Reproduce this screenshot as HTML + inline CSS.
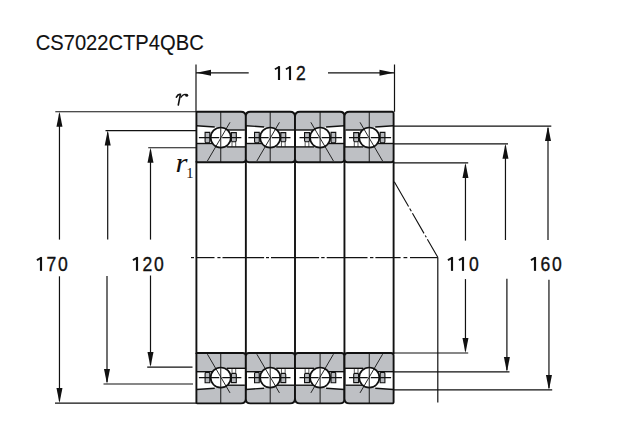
<!DOCTYPE html>
<html><head><meta charset="utf-8"><style>
html,body{margin:0;padding:0;background:#fff;width:640px;height:440px;overflow:hidden}
svg{position:absolute;left:0;top:0}
.t{font-family:"Liberation Sans",sans-serif;fill:#111;stroke:#111;stroke-width:0.35px}
.h{font-family:"Liberation Sans",sans-serif;fill:#111;stroke:#111;stroke-width:0.12px}
.s{font-family:"Liberation Serif",serif;font-style:italic;fill:#111}
.n{font-family:"Liberation Serif",serif;fill:#111}
</style></head><body>
<svg width="640" height="440" viewBox="0 0 640 440">
<g transform="translate(196.4,111.8) scale(1,1)"><path d="M0,0.8 Q0,0 0.8,0 H44.44999999999999 Q49.44999999999999,0 49.44999999999999,5.0 V18.2 H30.35 L18.35,15.2 L0,13.9 Z" fill="#bec0c4"/><path d="M0,31.7 H18.35 L30.35,35.1 H49.44999999999999 V47.4 Q49.44999999999999,50.4 46.44999999999999,50.4 H0.8 Q0,50.4 0,49.6 Z" fill="#bec0c4"/><path d="M0,13.9 L18.35,15.2" stroke="#111" stroke-width="1.4" fill="none"/><path d="M30.35,18.2 H48.44999999999999" stroke="#111" stroke-width="1.4" fill="none"/><path d="M0,31.7 H18.35" stroke="#111" stroke-width="1.4" fill="none"/><path d="M30.35,35.1 H49.44999999999999" stroke="#111" stroke-width="1.4" fill="none"/><path d="M8.7,20.6 H13.4 V29.8 Q13.4,31.0 12.2,31.0 H9.9 Q8.7,31.0 8.7,29.8 Z" fill="#b9bbbf" stroke="#111" stroke-width="1.1"/><path d="M35.0,20.8 H39.9 V28.8 Q39.9,30.0 38.7,30.0 H36.2 Q35.0,30.0 35.0,28.8 Z" fill="#b9bbbf" stroke="#111" stroke-width="1.1"/><path d="M35.6,30 V35 M39.3,30 V35" stroke="#111" stroke-width="0.7" fill="none"/><circle cx="24.35" cy="25.8" r="10.1" fill="#fff" stroke="#111" stroke-width="1.7"/><path d="M2.5,25.8 H22.85 M25.85,25.8 H44.94999999999999" stroke="#111" stroke-width="1.1" fill="none"/><path d="M24.35,0 V50.4" stroke="#111" stroke-width="0.95" fill="none"/><path d="M33.6,10.5 L11.0,49.2" stroke="#111" stroke-width="0.9" fill="none"/><path d="M0,0.8 Q0,0 0.8,0 H44.44999999999999 Q49.44999999999999,0 49.44999999999999,5.0 V47.4 Q49.44999999999999,50.4 46.44999999999999,50.4 H0.8 Q0,50.4 0,49.6 Z" fill="none" stroke="#111" stroke-width="1.9"/></g><g transform="translate(196.4,403.4) scale(1,-1)"><path d="M0,0.8 Q0,0 0.8,0 H44.44999999999999 Q49.44999999999999,0 49.44999999999999,5.0 V18.2 H30.35 L18.35,15.2 L0,13.9 Z" fill="#bec0c4"/><path d="M0,31.7 H18.35 L30.35,35.1 H49.44999999999999 V47.4 Q49.44999999999999,50.4 46.44999999999999,50.4 H0.8 Q0,50.4 0,49.6 Z" fill="#bec0c4"/><path d="M0,13.9 L18.35,15.2" stroke="#111" stroke-width="1.4" fill="none"/><path d="M30.35,18.2 H48.44999999999999" stroke="#111" stroke-width="1.4" fill="none"/><path d="M0,31.7 H18.35" stroke="#111" stroke-width="1.4" fill="none"/><path d="M30.35,35.1 H49.44999999999999" stroke="#111" stroke-width="1.4" fill="none"/><path d="M8.7,20.6 H13.4 V29.8 Q13.4,31.0 12.2,31.0 H9.9 Q8.7,31.0 8.7,29.8 Z" fill="#b9bbbf" stroke="#111" stroke-width="1.1"/><path d="M35.0,20.8 H39.9 V28.8 Q39.9,30.0 38.7,30.0 H36.2 Q35.0,30.0 35.0,28.8 Z" fill="#b9bbbf" stroke="#111" stroke-width="1.1"/><path d="M35.6,30 V35 M39.3,30 V35" stroke="#111" stroke-width="0.7" fill="none"/><circle cx="24.35" cy="25.8" r="10.1" fill="#fff" stroke="#111" stroke-width="1.7"/><path d="M2.5,25.8 H22.85 M25.85,25.8 H44.94999999999999" stroke="#111" stroke-width="1.1" fill="none"/><path d="M24.35,0 V50.4" stroke="#111" stroke-width="0.95" fill="none"/><path d="M33.6,10.5 L11.0,49.2" stroke="#111" stroke-width="0.9" fill="none"/><path d="M0,0.8 Q0,0 0.8,0 H44.44999999999999 Q49.44999999999999,0 49.44999999999999,5.0 V47.4 Q49.44999999999999,50.4 46.44999999999999,50.4 H0.8 Q0,50.4 0,49.6 Z" fill="none" stroke="#111" stroke-width="1.9"/></g><g transform="translate(245.85,111.8) scale(1,1)"><path d="M0,4.5 Q0,0 4.5,0 H44.150000000000006 Q49.150000000000006,0 49.150000000000006,5.0 V18.2 H30.35 L18.35,15.2 L0,13.9 Z" fill="#bec0c4"/><path d="M0,31.7 H18.35 L30.35,35.1 H49.150000000000006 V47.4 Q49.150000000000006,50.4 46.150000000000006,50.4 H3.0 Q0,50.4 0,47.4 Z" fill="#bec0c4"/><path d="M0,13.9 L18.35,15.2" stroke="#111" stroke-width="1.4" fill="none"/><path d="M30.35,18.2 H48.150000000000006" stroke="#111" stroke-width="1.4" fill="none"/><path d="M0,31.7 H18.35" stroke="#111" stroke-width="1.4" fill="none"/><path d="M30.35,35.1 H49.150000000000006" stroke="#111" stroke-width="1.4" fill="none"/><path d="M8.7,20.6 H13.4 V29.8 Q13.4,31.0 12.2,31.0 H9.9 Q8.7,31.0 8.7,29.8 Z" fill="#b9bbbf" stroke="#111" stroke-width="1.1"/><path d="M35.0,20.8 H39.9 V28.8 Q39.9,30.0 38.7,30.0 H36.2 Q35.0,30.0 35.0,28.8 Z" fill="#b9bbbf" stroke="#111" stroke-width="1.1"/><path d="M35.6,30 V35 M39.3,30 V35" stroke="#111" stroke-width="0.7" fill="none"/><circle cx="24.35" cy="25.8" r="10.1" fill="#fff" stroke="#111" stroke-width="1.7"/><path d="M2.5,25.8 H22.85 M25.85,25.8 H44.650000000000006" stroke="#111" stroke-width="1.1" fill="none"/><path d="M24.35,0 V50.4" stroke="#111" stroke-width="0.95" fill="none"/><path d="M33.6,10.5 L11.0,49.2" stroke="#111" stroke-width="0.9" fill="none"/><path d="M0,4.5 Q0,0 4.5,0 H44.150000000000006 Q49.150000000000006,0 49.150000000000006,5.0 V47.4 Q49.150000000000006,50.4 46.150000000000006,50.4 H3.0 Q0,50.4 0,47.4 Z" fill="none" stroke="#111" stroke-width="1.9"/></g><g transform="translate(245.85,403.4) scale(1,-1)"><path d="M0,4.5 Q0,0 4.5,0 H44.150000000000006 Q49.150000000000006,0 49.150000000000006,5.0 V18.2 H30.35 L18.35,15.2 L0,13.9 Z" fill="#bec0c4"/><path d="M0,31.7 H18.35 L30.35,35.1 H49.150000000000006 V47.4 Q49.150000000000006,50.4 46.150000000000006,50.4 H3.0 Q0,50.4 0,47.4 Z" fill="#bec0c4"/><path d="M0,13.9 L18.35,15.2" stroke="#111" stroke-width="1.4" fill="none"/><path d="M30.35,18.2 H48.150000000000006" stroke="#111" stroke-width="1.4" fill="none"/><path d="M0,31.7 H18.35" stroke="#111" stroke-width="1.4" fill="none"/><path d="M30.35,35.1 H49.150000000000006" stroke="#111" stroke-width="1.4" fill="none"/><path d="M8.7,20.6 H13.4 V29.8 Q13.4,31.0 12.2,31.0 H9.9 Q8.7,31.0 8.7,29.8 Z" fill="#b9bbbf" stroke="#111" stroke-width="1.1"/><path d="M35.0,20.8 H39.9 V28.8 Q39.9,30.0 38.7,30.0 H36.2 Q35.0,30.0 35.0,28.8 Z" fill="#b9bbbf" stroke="#111" stroke-width="1.1"/><path d="M35.6,30 V35 M39.3,30 V35" stroke="#111" stroke-width="0.7" fill="none"/><circle cx="24.35" cy="25.8" r="10.1" fill="#fff" stroke="#111" stroke-width="1.7"/><path d="M2.5,25.8 H22.85 M25.85,25.8 H44.650000000000006" stroke="#111" stroke-width="1.1" fill="none"/><path d="M24.35,0 V50.4" stroke="#111" stroke-width="0.95" fill="none"/><path d="M33.6,10.5 L11.0,49.2" stroke="#111" stroke-width="0.9" fill="none"/><path d="M0,4.5 Q0,0 4.5,0 H44.150000000000006 Q49.150000000000006,0 49.150000000000006,5.0 V47.4 Q49.150000000000006,50.4 46.150000000000006,50.4 H3.0 Q0,50.4 0,47.4 Z" fill="none" stroke="#111" stroke-width="1.9"/></g><g transform="translate(344.45,111.8) scale(-1,1)"><path d="M0,4.5 Q0,0 4.5,0 H44.44999999999999 Q49.44999999999999,0 49.44999999999999,5.0 V18.2 H30.35 L18.35,15.2 L0,13.9 Z" fill="#bec0c4"/><path d="M0,31.7 H18.35 L30.35,35.1 H49.44999999999999 V47.4 Q49.44999999999999,50.4 46.44999999999999,50.4 H3.0 Q0,50.4 0,47.4 Z" fill="#bec0c4"/><path d="M0,13.9 L18.35,15.2" stroke="#111" stroke-width="1.4" fill="none"/><path d="M30.35,18.2 H48.44999999999999" stroke="#111" stroke-width="1.4" fill="none"/><path d="M0,31.7 H18.35" stroke="#111" stroke-width="1.4" fill="none"/><path d="M30.35,35.1 H49.44999999999999" stroke="#111" stroke-width="1.4" fill="none"/><path d="M8.7,20.6 H13.4 V29.8 Q13.4,31.0 12.2,31.0 H9.9 Q8.7,31.0 8.7,29.8 Z" fill="#b9bbbf" stroke="#111" stroke-width="1.1"/><path d="M35.0,20.8 H39.9 V28.8 Q39.9,30.0 38.7,30.0 H36.2 Q35.0,30.0 35.0,28.8 Z" fill="#b9bbbf" stroke="#111" stroke-width="1.1"/><path d="M35.6,30 V35 M39.3,30 V35" stroke="#111" stroke-width="0.7" fill="none"/><circle cx="24.35" cy="25.8" r="10.1" fill="#fff" stroke="#111" stroke-width="1.7"/><path d="M2.5,25.8 H22.85 M25.85,25.8 H44.94999999999999" stroke="#111" stroke-width="1.1" fill="none"/><path d="M24.35,0 V50.4" stroke="#111" stroke-width="0.95" fill="none"/><path d="M33.6,10.5 L11.0,49.2" stroke="#111" stroke-width="0.9" fill="none"/><path d="M0,4.5 Q0,0 4.5,0 H44.44999999999999 Q49.44999999999999,0 49.44999999999999,5.0 V47.4 Q49.44999999999999,50.4 46.44999999999999,50.4 H3.0 Q0,50.4 0,47.4 Z" fill="none" stroke="#111" stroke-width="1.9"/></g><g transform="translate(344.45,403.4) scale(-1,-1)"><path d="M0,4.5 Q0,0 4.5,0 H44.44999999999999 Q49.44999999999999,0 49.44999999999999,5.0 V18.2 H30.35 L18.35,15.2 L0,13.9 Z" fill="#bec0c4"/><path d="M0,31.7 H18.35 L30.35,35.1 H49.44999999999999 V47.4 Q49.44999999999999,50.4 46.44999999999999,50.4 H3.0 Q0,50.4 0,47.4 Z" fill="#bec0c4"/><path d="M0,13.9 L18.35,15.2" stroke="#111" stroke-width="1.4" fill="none"/><path d="M30.35,18.2 H48.44999999999999" stroke="#111" stroke-width="1.4" fill="none"/><path d="M0,31.7 H18.35" stroke="#111" stroke-width="1.4" fill="none"/><path d="M30.35,35.1 H49.44999999999999" stroke="#111" stroke-width="1.4" fill="none"/><path d="M8.7,20.6 H13.4 V29.8 Q13.4,31.0 12.2,31.0 H9.9 Q8.7,31.0 8.7,29.8 Z" fill="#b9bbbf" stroke="#111" stroke-width="1.1"/><path d="M35.0,20.8 H39.9 V28.8 Q39.9,30.0 38.7,30.0 H36.2 Q35.0,30.0 35.0,28.8 Z" fill="#b9bbbf" stroke="#111" stroke-width="1.1"/><path d="M35.6,30 V35 M39.3,30 V35" stroke="#111" stroke-width="0.7" fill="none"/><circle cx="24.35" cy="25.8" r="10.1" fill="#fff" stroke="#111" stroke-width="1.7"/><path d="M2.5,25.8 H22.85 M25.85,25.8 H44.94999999999999" stroke="#111" stroke-width="1.1" fill="none"/><path d="M24.35,0 V50.4" stroke="#111" stroke-width="0.95" fill="none"/><path d="M33.6,10.5 L11.0,49.2" stroke="#111" stroke-width="0.9" fill="none"/><path d="M0,4.5 Q0,0 4.5,0 H44.44999999999999 Q49.44999999999999,0 49.44999999999999,5.0 V47.4 Q49.44999999999999,50.4 46.44999999999999,50.4 H3.0 Q0,50.4 0,47.4 Z" fill="none" stroke="#111" stroke-width="1.9"/></g><g transform="translate(393.6,111.8) scale(-1,1)"><path d="M0,1.5 Q0,0 1.5,0 H44.150000000000034 Q49.150000000000034,0 49.150000000000034,5.0 V18.2 H30.35 L18.35,15.2 L0,13.9 Z" fill="#bec0c4"/><path d="M0,31.7 H18.35 L30.35,35.1 H49.150000000000034 V47.4 Q49.150000000000034,50.4 46.150000000000034,50.4 H2.5 Q0,50.4 0,47.9 Z" fill="#bec0c4"/><path d="M0,13.9 L18.35,15.2" stroke="#111" stroke-width="1.4" fill="none"/><path d="M30.35,18.2 H48.150000000000034" stroke="#111" stroke-width="1.4" fill="none"/><path d="M0,31.7 H18.35" stroke="#111" stroke-width="1.4" fill="none"/><path d="M30.35,35.1 H49.150000000000034" stroke="#111" stroke-width="1.4" fill="none"/><path d="M8.7,20.6 H13.4 V29.8 Q13.4,31.0 12.2,31.0 H9.9 Q8.7,31.0 8.7,29.8 Z" fill="#b9bbbf" stroke="#111" stroke-width="1.1"/><path d="M35.0,20.8 H39.9 V28.8 Q39.9,30.0 38.7,30.0 H36.2 Q35.0,30.0 35.0,28.8 Z" fill="#b9bbbf" stroke="#111" stroke-width="1.1"/><path d="M35.6,30 V35 M39.3,30 V35" stroke="#111" stroke-width="0.7" fill="none"/><circle cx="24.35" cy="25.8" r="10.1" fill="#fff" stroke="#111" stroke-width="1.7"/><path d="M2.5,25.8 H22.85 M25.85,25.8 H44.650000000000034" stroke="#111" stroke-width="1.1" fill="none"/><path d="M24.35,0 V50.4" stroke="#111" stroke-width="0.95" fill="none"/><path d="M33.6,10.5 L11.0,49.2" stroke="#111" stroke-width="0.9" fill="none"/><path d="M0,1.5 Q0,0 1.5,0 H44.150000000000034 Q49.150000000000034,0 49.150000000000034,5.0 V47.4 Q49.150000000000034,50.4 46.150000000000034,50.4 H2.5 Q0,50.4 0,47.9 Z" fill="none" stroke="#111" stroke-width="1.9"/></g><g transform="translate(393.6,403.4) scale(-1,-1)"><path d="M0,1.5 Q0,0 1.5,0 H44.150000000000034 Q49.150000000000034,0 49.150000000000034,5.0 V18.2 H30.35 L18.35,15.2 L0,13.9 Z" fill="#bec0c4"/><path d="M0,31.7 H18.35 L30.35,35.1 H49.150000000000034 V47.4 Q49.150000000000034,50.4 46.150000000000034,50.4 H2.5 Q0,50.4 0,47.9 Z" fill="#bec0c4"/><path d="M0,13.9 L18.35,15.2" stroke="#111" stroke-width="1.4" fill="none"/><path d="M30.35,18.2 H48.150000000000034" stroke="#111" stroke-width="1.4" fill="none"/><path d="M0,31.7 H18.35" stroke="#111" stroke-width="1.4" fill="none"/><path d="M30.35,35.1 H49.150000000000034" stroke="#111" stroke-width="1.4" fill="none"/><path d="M8.7,20.6 H13.4 V29.8 Q13.4,31.0 12.2,31.0 H9.9 Q8.7,31.0 8.7,29.8 Z" fill="#b9bbbf" stroke="#111" stroke-width="1.1"/><path d="M35.0,20.8 H39.9 V28.8 Q39.9,30.0 38.7,30.0 H36.2 Q35.0,30.0 35.0,28.8 Z" fill="#b9bbbf" stroke="#111" stroke-width="1.1"/><path d="M35.6,30 V35 M39.3,30 V35" stroke="#111" stroke-width="0.7" fill="none"/><circle cx="24.35" cy="25.8" r="10.1" fill="#fff" stroke="#111" stroke-width="1.7"/><path d="M2.5,25.8 H22.85 M25.85,25.8 H44.650000000000034" stroke="#111" stroke-width="1.1" fill="none"/><path d="M24.35,0 V50.4" stroke="#111" stroke-width="0.95" fill="none"/><path d="M33.6,10.5 L11.0,49.2" stroke="#111" stroke-width="0.9" fill="none"/><path d="M0,1.5 Q0,0 1.5,0 H44.150000000000034 Q49.150000000000034,0 49.150000000000034,5.0 V47.4 Q49.150000000000034,50.4 46.150000000000034,50.4 H2.5 Q0,50.4 0,47.9 Z" fill="none" stroke="#111" stroke-width="1.9"/></g><path d="M196.4,161.2 L196.4,354.0" stroke="#111" stroke-width="1.9" fill="none" /><path d="M245.85,161.2 L245.85,354.0" stroke="#111" stroke-width="1.9" fill="none" /><path d="M295.0,161.2 L295.0,354.0" stroke="#111" stroke-width="1.9" fill="none" /><path d="M344.45,161.2 L344.45,354.0" stroke="#111" stroke-width="1.9" fill="none" /><path d="M393.6,161.2 L393.6,354.0" stroke="#111" stroke-width="1.9" fill="none" /><path d="M191,257.6 L194,257.6" stroke="#111" stroke-width="1.2" fill="none" /><path d="M196,257.6 L214.5,257.6" stroke="#111" stroke-width="1.2" fill="none" /><path d="M217.4,257.6 L220.5,257.6" stroke="#111" stroke-width="1.2" fill="none" /><path d="M222.5,257.6 L264.1,257.6" stroke="#111" stroke-width="1.2" fill="none" /><path d="M266,257.6 L269,257.6" stroke="#111" stroke-width="1.2" fill="none" /><path d="M271,257.6 L319.1,257.6" stroke="#111" stroke-width="1.2" fill="none" /><path d="M321.2,257.6 L324.6,257.6" stroke="#111" stroke-width="1.2" fill="none" /><path d="M326.7,257.6 L367.5,257.6" stroke="#111" stroke-width="1.2" fill="none" /><path d="M370,257.6 L373.4,257.6" stroke="#111" stroke-width="1.2" fill="none" /><path d="M375.4,257.6 L400.6,257.6" stroke="#111" stroke-width="1.2" fill="none" /><path d="M403.5,257.6 L407.3,257.6" stroke="#111" stroke-width="1.2" fill="none" /><path d="M410,257.6 L437.8,257.6" stroke="#111" stroke-width="1.2" fill="none" /><path d="M196.0,64.5 L196.0,111.8" stroke="#111" stroke-width="1.2" fill="none" /><path d="M394.5,64.5 L394.5,111.8" stroke="#111" stroke-width="1.2" fill="none" /><path d="M196,72.8 L248.7,72.8" stroke="#111" stroke-width="1.2" fill="none" /><path d="M328,72.8 L394.5,72.8" stroke="#111" stroke-width="1.2" fill="none" /><path d="M196.5,72.8 L211.0,69.8 L211.0,75.8 Z" fill="#111"/><path d="M394.0,72.8 L379.5,69.8 L379.5,75.8 Z" fill="#111"/><path d="M59.46,113.76 L59.46,239.6" stroke="#111" stroke-width="1.2" fill="none" /><path d="M59.46,276.3 L59.46,401.1" stroke="#111" stroke-width="1.2" fill="none" /><path d="M59.46,111.76 L56.46,126.76 L62.46,126.76 Z" fill="#111"/><path d="M59.46,403.1 L56.46,388.1 L62.46,388.1 Z" fill="#111"/><path d="M55.3,111.76 L196.4,111.76" stroke="#111" stroke-width="1.2" fill="none" /><path d="M55,403.1 L196.4,403.1" stroke="#111" stroke-width="1.2" fill="none" /><path d="M107.7,132.6 L107.7,239.5" stroke="#111" stroke-width="1.2" fill="none" /><path d="M107.0,276.1 L107.0,382.0" stroke="#111" stroke-width="1.2" fill="none" /><path d="M107.7,130.6 L104.7,145.6 L110.7,145.6 Z" fill="#111"/><path d="M107.0,384.0 L104.0,369.0 L110.0,369.0 Z" fill="#111"/><path d="M105.5,130.6 L196.4,130.6" stroke="#111" stroke-width="1.2" fill="none" /><path d="M103.5,384.0 L193,384.0" stroke="#111" stroke-width="1.2" fill="none" /><path d="M150.5,149.77 L150.5,239.6" stroke="#111" stroke-width="1.2" fill="none" /><path d="M150.5,275.5 L150.5,365.1" stroke="#111" stroke-width="1.2" fill="none" /><path d="M150.5,147.77 L147.5,162.77 L153.5,162.77 Z" fill="#111"/><path d="M150.5,367.1 L147.5,352.1 L153.5,352.1 Z" fill="#111"/><path d="M148.2,147.77 L196.4,147.77" stroke="#111" stroke-width="1.2" fill="none" /><path d="M147.2,367.1 L192.5,367.1" stroke="#111" stroke-width="1.2" fill="none" /><path d="M465.46,164.9 L465.46,240.6" stroke="#111" stroke-width="1.2" fill="none" /><path d="M465.46,279.1 L465.46,351.0" stroke="#111" stroke-width="1.2" fill="none" /><path d="M465.46,162.9 L462.46,177.9 L468.46,177.9 Z" fill="#111"/><path d="M465.46,353.0 L462.46,338.0 L468.46,338.0 Z" fill="#111"/><path d="M393.6,162.9 L468.2,162.9" stroke="#111" stroke-width="1.2" fill="none" /><path d="M393.6,353.0 L468.2,353.0" stroke="#111" stroke-width="1.2" fill="none" /><path d="M505.46,145.8 L505.46,240" stroke="#111" stroke-width="1.2" fill="none" /><path d="M506.9,278.7 L506.9,369.95" stroke="#111" stroke-width="1.2" fill="none" /><path d="M505.46,143.8 L502.46,158.8 L508.46,158.8 Z" fill="#111"/><path d="M506.9,371.95 L503.9,356.95 L509.9,356.95 Z" fill="#111"/><path d="M393.6,143.8 L508,143.8" stroke="#111" stroke-width="1.2" fill="none" /><path d="M393.6,371.95 L509.5,371.95" stroke="#111" stroke-width="1.2" fill="none" /><path d="M548.0,128.04000000000002 L548.0,240" stroke="#111" stroke-width="1.2" fill="none" /><path d="M548.95,279.8 L548.95,387.9" stroke="#111" stroke-width="1.2" fill="none" /><path d="M548.0,126.04 L545.0,141.04000000000002 L551.0,141.04000000000002 Z" fill="#111"/><path d="M548.95,389.9 L545.95,374.9 L551.95,374.9 Z" fill="#111"/><path d="M393.6,126.04 L551.3,126.04" stroke="#111" stroke-width="1.2" fill="none" /><path d="M393.6,389.9 L552.2,389.9" stroke="#111" stroke-width="1.2" fill="none" /><path d="M394.3,181.8 L437.8,257.3" stroke="#111" stroke-width="1.1" fill="none" stroke-dasharray="28.6,2.2,3.3,2.2,23.2,2.4,2.2,2.1,30"/><path d="M437.8,257.3 L437.8,402.6" stroke="#111" stroke-width="1.2" fill="none" /><path d="M176.4,97.2 Q178.2,93.6 180.4,94.3 L178.3,105" stroke="#111" stroke-width="1.6" fill="none" stroke-linecap="round"/><path d="M180.6,97.6 Q183.2,93.4 186.6,94.6" stroke="#111" stroke-width="1.3" fill="none"/><circle cx="186.7" cy="95.2" r="1.5" fill="#111"/><path d="M279.0,66.25 V80.0" stroke="#111" stroke-width="2.15" fill="none"/><path d="M279.6,66.8 L274.9,69.3" stroke="#111" stroke-width="1.8" fill="none"/><path d="M290.0,66.25 V80.0" stroke="#111" stroke-width="2.15" fill="none"/><path d="M290.6,66.8 L285.9,69.3" stroke="#111" stroke-width="1.8" fill="none"/><text class="t" transform="translate(300.8,80.0) scale(0.9,1)" font-size="19.5" text-anchor="middle">2</text><path d="M41.0,257.1 V270.85" stroke="#111" stroke-width="2.15" fill="none"/><path d="M41.6,257.65000000000003 L36.9,260.15000000000003" stroke="#111" stroke-width="1.8" fill="none"/><text class="t" transform="translate(51.5,270.85) scale(0.9,1)" font-size="19.5" text-anchor="middle">7</text><text class="t" transform="translate(62.8,270.85) scale(0.9,1)" font-size="19.5" text-anchor="middle">0</text><path d="M137.0,257.1 V270.85" stroke="#111" stroke-width="2.15" fill="none"/><path d="M137.6,257.65000000000003 L132.9,260.15000000000003" stroke="#111" stroke-width="1.8" fill="none"/><text class="t" transform="translate(147.5,270.85) scale(0.9,1)" font-size="19.5" text-anchor="middle">2</text><text class="t" transform="translate(158.8,270.85) scale(0.9,1)" font-size="19.5" text-anchor="middle">0</text><path d="M452.0,257.1 V270.85" stroke="#111" stroke-width="2.15" fill="none"/><path d="M452.6,257.65000000000003 L447.9,260.15000000000003" stroke="#111" stroke-width="1.8" fill="none"/><path d="M463.0,257.1 V270.85" stroke="#111" stroke-width="2.15" fill="none"/><path d="M463.6,257.65000000000003 L458.9,260.15000000000003" stroke="#111" stroke-width="1.8" fill="none"/><text class="t" transform="translate(473.8,270.85) scale(0.9,1)" font-size="19.5" text-anchor="middle">0</text><path d="M535.0,257.1 V270.85" stroke="#111" stroke-width="2.15" fill="none"/><path d="M535.6,257.65000000000003 L530.9,260.15000000000003" stroke="#111" stroke-width="1.8" fill="none"/><text class="t" transform="translate(545.5,270.85) scale(0.9,1)" font-size="19.5" text-anchor="middle">6</text><text class="t" transform="translate(556.8,270.85) scale(0.9,1)" font-size="19.5" text-anchor="middle">0</text>
<text class="h" x="35.7" y="49.7" font-size="22.8" textLength="168" lengthAdjust="spacingAndGlyphs">CS7022CTP4QBC</text>
<text class="s" x="175.5" y="172" font-size="27" textLength="12" lengthAdjust="spacingAndGlyphs">r</text>
<text class="n" x="186.2" y="177.6" font-size="14.5">1</text>
</svg>
</body></html>
